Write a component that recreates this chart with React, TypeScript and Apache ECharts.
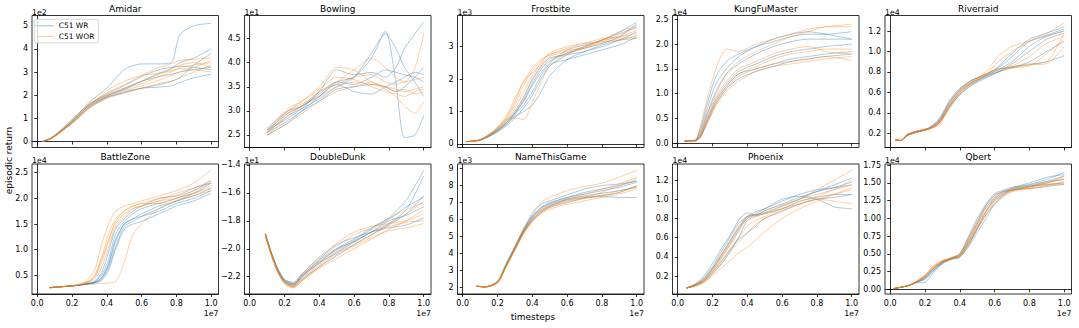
import React, { useEffect, useRef } from "react";
import * as echarts from "echarts";

// x positions are in units of 1e7 timesteps; y values in the units of each panel's offset (1eN)
const timestepTicks = [0, 0.2, 0.4, 0.6, 0.8, 1.0];

// ---------- Amidar (x1e2)
const amidarX = [0.03, 0.08, 0.15, 0.22, 0.3, 0.4, 0.5, 0.6, 0.7, 0.77, 0.82, 0.9, 1.0];
const amidarWR = [
  [0, 0.15, 0.55, 1.05, 1.7, 2.3, 3.1, 3.35, 3.35, 3.4, 4.6, 5.0, 5.1],
  [0, 0.12, 0.5, 0.95, 1.5, 1.95, 2.25, 2.6, 2.95, 3.15, 3.4, 3.6, 4.0],
  [0, 0.14, 0.52, 1.0, 1.55, 1.9, 2.1, 2.3, 2.45, 2.6, 2.75, 3.3, 3.8],
  [0, 0.15, 0.6, 1.1, 1.6, 2.0, 2.3, 2.6, 2.8, 2.9, 3.0, 3.1, 3.2],
  [0, 0.13, 0.5, 0.9, 1.45, 1.9, 2.15, 2.3, 2.35, 2.4, 2.55, 2.75, 2.9],
  [0, 0.15, 0.55, 1.0, 1.6, 2.05, 2.4, 2.8, 3.1, 3.2, 3.25, 3.2, 3.1],
];
const amidarWOR = [
  [0, 0.14, 0.55, 1.0, 1.6, 2.1, 2.45, 2.85, 3.2, 3.35, 3.5, 3.55, 3.6],
  [0, 0.13, 0.5, 0.95, 1.5, 1.95, 2.2, 2.4, 2.65, 2.85, 3.0, 3.2, 3.5],
  [0, 0.15, 0.55, 1.05, 1.65, 2.0, 2.25, 2.5, 2.8, 3.0, 3.2, 3.3, 3.4],
  [0, 0.12, 0.48, 0.9, 1.45, 1.85, 2.1, 2.3, 2.5, 2.6, 2.75, 3.0, 3.3],
  [0, 0.14, 0.52, 1.0, 1.55, 1.95, 2.3, 2.6, 2.9, 3.1, 3.3, 3.4, 3.2],
  [0, 0.13, 0.5, 0.95, 1.5, 2.2, 2.6, 2.85, 2.95, 3.05, 3.15, 3.1, 3.0],
];
const amidarTicks = [0, 1, 2, 3, 4, 5];

// ---------- Bowling (x1e1)
const bowlingX = [0.1, 0.15, 0.22, 0.3, 0.4, 0.5, 0.6, 0.7, 0.78, 0.84, 0.89, 0.95, 1.0];
const bowlingWR = [
  [2.55, 2.65, 2.8, 3.0, 3.3, 3.6, 3.7, 4.1, 4.65, 3.6, 2.45, 2.5, 2.9],
  [2.6, 2.7, 2.85, 3.05, 3.4, 3.85, 3.75, 3.8, 3.7, 3.9, 4.3, 4.6, 4.85],
  [2.5, 2.6, 2.75, 3.0, 3.2, 3.45, 3.5, 3.55, 3.5, 3.4, 3.5, 3.7, 3.9],
  [2.65, 2.8, 3.0, 3.1, 3.35, 3.6, 3.55, 3.7, 3.85, 3.8, 3.75, 3.7, 3.6],
  [2.55, 2.7, 2.9, 3.05, 3.25, 3.5, 3.7, 4.2, 4.6, 4.3, 3.9, 3.6, 3.3],
  [2.6, 2.75, 2.95, 3.1, 3.3, 3.55, 3.4, 3.35, 3.5, 3.6, 3.7, 3.8, 3.75],
];
const bowlingWOR = [
  [2.5, 2.65, 2.9, 3.1, 3.4, 3.6, 3.85, 4.1, 3.9, 3.7, 3.6, 3.9, 4.6],
  [2.55, 2.75, 3.0, 3.15, 3.3, 3.5, 3.6, 3.55, 3.5, 3.45, 3.4, 3.45, 3.5],
  [2.6, 2.8, 3.05, 3.2, 3.45, 3.7, 3.65, 3.5, 3.4, 3.35, 3.3, 3.4, 3.45],
  [2.5, 2.6, 2.75, 2.95, 3.2, 3.4, 3.5, 3.6, 3.45, 3.3, 3.1, 2.95, 3.2],
  [2.55, 2.7, 2.95, 3.1, 3.4, 3.55, 3.7, 3.75, 3.6, 3.55, 3.6, 3.65, 3.7],
  [2.6, 2.75, 3.0, 3.2, 3.5, 3.9, 3.85, 3.6, 3.5, 3.4, 3.45, 3.35, 3.4],
];
const bowlingTicks = [2.5, 3.0, 3.5, 4.0, 4.5];

// ---------- Frostbite (x1e3)
const frostbiteX = [0.02, 0.1, 0.18, 0.25, 0.3, 0.35, 0.4, 0.45, 0.5, 0.6, 0.7, 0.8, 0.9, 1.0];
const frostbiteWR = [
  [0.07, 0.12, 0.35, 0.65, 0.95, 1.35, 1.85, 2.3, 2.55, 2.8, 2.95, 3.1, 3.3, 3.7],
  [0.07, 0.12, 0.3, 0.55, 0.8, 1.1, 1.5, 2.0, 2.4, 2.75, 3.0, 3.2, 3.4, 3.6],
  [0.07, 0.11, 0.32, 0.6, 0.85, 1.0, 1.2, 1.6, 2.1, 2.6, 2.85, 3.0, 3.2, 3.45],
  [0.07, 0.13, 0.38, 0.7, 1.0, 1.45, 2.0, 2.4, 2.65, 2.75, 2.85, 3.05, 3.2, 3.25],
  [0.07, 0.12, 0.33, 0.6, 0.9, 1.2, 1.6, 2.1, 2.45, 2.6, 2.75, 2.9, 3.05, 3.3],
  [0.07, 0.12, 0.36, 0.65, 0.95, 1.3, 1.8, 2.2, 2.5, 2.9, 3.05, 3.2, 3.45, 3.75],
];
const frostbiteWOR = [
  [0.07, 0.13, 0.4, 0.8, 1.3, 1.95, 2.2, 2.45, 2.7, 2.85, 3.0, 3.15, 3.35, 3.6],
  [0.07, 0.12, 0.38, 0.75, 0.8, 0.75, 1.3, 1.9, 2.4, 2.8, 3.0, 3.2, 3.3, 3.5],
  [0.07, 0.14, 0.42, 0.85, 1.4, 1.9, 2.35, 2.6, 2.75, 2.95, 3.1, 3.25, 3.3, 3.4],
  [0.07, 0.12, 0.37, 0.7, 1.1, 1.6, 2.1, 2.5, 2.8, 3.0, 3.1, 3.15, 3.2, 3.35],
  [0.07, 0.13, 0.4, 0.75, 1.2, 1.8, 2.25, 2.55, 2.75, 2.9, 2.95, 3.1, 3.25, 3.3],
  [0.07, 0.12, 0.35, 0.65, 0.95, 1.4, 1.95, 2.35, 2.6, 2.8, 2.95, 3.2, 3.45, 3.65],
];
const frostbiteTicks = [0, 1, 2, 3];

// ---------- KungFuMaster (x1e4)
const kungfuX = [0.04, 0.1, 0.13, 0.17, 0.22, 0.28, 0.35, 0.45, 0.55, 0.65, 0.75, 0.85, 1.0];
const kungfuWR = [
  [0.05, 0.06, 0.3, 0.8, 1.35, 1.65, 1.8, 1.95, 2.05, 2.15, 2.2, 2.2, 2.25],
  [0.05, 0.05, 0.2, 0.6, 1.05, 1.4, 1.6, 1.8, 1.95, 2.05, 2.1, 2.1, 2.1],
  [0.05, 0.05, 0.15, 0.5, 0.9, 1.2, 1.45, 1.6, 1.75, 1.85, 1.9, 1.95, 2.0],
  [0.05, 0.05, 0.12, 0.42, 0.8, 1.1, 1.3, 1.45, 1.55, 1.65, 1.7, 1.75, 1.8],
  [0.05, 0.05, 0.13, 0.45, 0.85, 1.15, 1.4, 1.5, 1.6, 1.7, 1.75, 1.8, 1.85],
  [0.05, 0.06, 0.25, 0.7, 1.2, 1.5, 1.75, 1.95, 2.1, 2.2, 2.25, 2.2, 2.1],
];
const kungfuWOR = [
  [0.05, 0.06, 0.35, 0.9, 1.5, 1.9, 1.85, 2.0, 2.1, 2.2, 2.3, 2.35, 2.4],
  [0.05, 0.05, 0.2, 0.6, 1.0, 1.4, 1.65, 1.85, 2.0, 2.15, 2.25, 2.35, 2.35],
  [0.05, 0.05, 0.15, 0.5, 0.85, 1.15, 1.4, 1.55, 1.7, 1.8, 1.85, 1.9, 1.9],
  [0.05, 0.05, 0.12, 0.4, 0.75, 1.05, 1.25, 1.45, 1.55, 1.6, 1.65, 1.7, 1.75],
  [0.05, 0.06, 0.15, 0.45, 0.8, 1.1, 1.35, 1.5, 1.6, 1.65, 1.7, 1.75, 1.67],
  [0.05, 0.05, 0.18, 0.55, 0.95, 1.25, 1.5, 1.65, 1.8, 1.9, 1.95, 1.85, 1.8],
];
const kungfuTicks = [0, 0.5, 1.0, 1.5, 2.0, 2.5];

// ---------- Riverraid (x1e4)
const riverraidX = [0.03, 0.06, 0.1, 0.15, 0.22, 0.28, 0.34, 0.4, 0.47, 0.55, 0.62, 0.7, 0.8, 0.9, 1.0];
const riverraidWR = [
  [0.135, 0.13, 0.19, 0.21, 0.245, 0.32, 0.5, 0.63, 0.72, 0.78, 0.84, 0.95, 1.1, 1.16, 1.22],
  [0.135, 0.13, 0.18, 0.21, 0.24, 0.3, 0.45, 0.58, 0.68, 0.75, 0.8, 0.85, 0.87, 0.9, 0.96],
  [0.135, 0.13, 0.19, 0.22, 0.25, 0.33, 0.5, 0.62, 0.7, 0.76, 0.82, 0.9, 1.05, 1.15, 1.2],
  [0.135, 0.13, 0.18, 0.21, 0.245, 0.31, 0.47, 0.6, 0.69, 0.76, 0.8, 0.84, 0.9, 1.0, 1.1],
  [0.135, 0.13, 0.19, 0.22, 0.25, 0.34, 0.52, 0.64, 0.72, 0.77, 0.85, 0.98, 1.12, 1.18, 1.24],
  [0.135, 0.13, 0.18, 0.21, 0.24, 0.3, 0.46, 0.58, 0.67, 0.74, 0.8, 0.88, 1.0, 1.12, 1.18],
];
const riverraidWOR = [
  [0.135, 0.13, 0.19, 0.22, 0.24, 0.29, 0.46, 0.6, 0.7, 0.77, 0.9, 1.0, 1.1, 1.18, 1.28],
  [0.135, 0.13, 0.18, 0.21, 0.24, 0.3, 0.48, 0.62, 0.71, 0.78, 0.83, 0.84, 0.86, 0.98, 1.12],
  [0.135, 0.13, 0.19, 0.22, 0.25, 0.31, 0.47, 0.61, 0.7, 0.77, 0.82, 0.85, 0.88, 0.9, 1.18],
  [0.135, 0.13, 0.18, 0.21, 0.24, 0.28, 0.44, 0.58, 0.68, 0.76, 0.82, 0.86, 0.95, 1.08, 1.15],
  [0.135, 0.13, 0.19, 0.22, 0.25, 0.32, 0.5, 0.63, 0.72, 0.78, 0.83, 0.84, 0.87, 0.88, 1.05],
  [0.135, 0.13, 0.18, 0.21, 0.245, 0.3, 0.47, 0.6, 0.7, 0.8, 0.95, 1.05, 1.1, 1.15, 1.2],
];
const riverraidTicks = [0.2, 0.4, 0.6, 0.8, 1.0, 1.2];

// ---------- BattleZone (x1e4)
const battleX = [0.07, 0.15, 0.22, 0.28, 0.33, 0.37, 0.41, 0.45, 0.5, 0.55, 0.6, 0.7, 0.8, 0.9, 1.0];
const battleWR = [
  [0.26, 0.28, 0.3, 0.33, 0.36, 0.45, 0.7, 1.15, 1.5, 1.6, 1.7, 1.85, 1.95, 2.1, 2.3],
  [0.26, 0.28, 0.3, 0.33, 0.35, 0.4, 0.6, 1.0, 1.4, 1.5, 1.55, 1.7, 1.85, 1.95, 2.1],
  [0.26, 0.28, 0.3, 0.33, 0.37, 0.5, 0.8, 1.3, 1.55, 1.7, 1.8, 1.9, 2.0, 2.15, 2.35],
  [0.26, 0.28, 0.3, 0.32, 0.35, 0.42, 0.65, 1.05, 1.45, 1.55, 1.65, 1.8, 1.95, 2.05, 2.2],
  [0.26, 0.28, 0.3, 0.33, 0.38, 0.55, 0.95, 1.4, 1.6, 1.75, 1.85, 2.0, 2.05, 2.2, 2.3],
  [0.26, 0.28, 0.3, 0.33, 0.36, 0.45, 0.72, 1.2, 1.5, 1.6, 1.65, 1.75, 1.9, 2.0, 2.15],
];
const battleWOR = [
  [0.26, 0.28, 0.3, 0.38, 0.6, 1.1, 1.5, 1.75, 1.85, 1.9, 1.95, 2.05, 2.15, 2.3, 2.55],
  [0.26, 0.28, 0.31, 0.36, 0.5, 0.85, 1.3, 1.6, 1.75, 1.85, 1.9, 2.0, 2.05, 2.15, 2.3],
  [0.25, 0.28, 0.3, 0.34, 0.42, 0.65, 1.05, 1.45, 1.65, 1.8, 1.85, 1.95, 2.0, 2.1, 2.2],
  [0.26, 0.28, 0.3, 0.32, 0.33, 0.34, 0.35, 0.37, 0.75, 1.3, 1.5, 1.8, 1.95, 2.05, 2.15],
  [0.26, 0.28, 0.31, 0.35, 0.48, 0.8, 1.2, 1.5, 1.7, 1.8, 1.85, 1.95, 2.1, 2.2, 2.35],
  [0.25, 0.28, 0.3, 0.35, 0.45, 0.75, 1.15, 1.55, 1.75, 1.85, 1.9, 1.9, 2.0, 2.1, 2.25],
];
const battleTicks = [0.5, 1.0, 1.5, 2.0, 2.5];

// ---------- DoubleDunk (x1e1)
const dunkX = [0.09, 0.12, 0.16, 0.2, 0.25, 0.3, 0.4, 0.5, 0.6, 0.7, 0.8, 0.9, 1.0];
const dunkWR = [
  [-1.9, -2.02, -2.15, -2.23, -2.26, -2.2, -2.1, -2.0, -1.93, -1.85, -1.78, -1.65, -1.44],
  [-1.89, -2.01, -2.14, -2.22, -2.25, -2.19, -2.08, -2.0, -1.95, -1.88, -1.82, -1.72, -1.48],
  [-1.9, -2.02, -2.15, -2.23, -2.27, -2.22, -2.13, -2.05, -1.97, -1.9, -1.83, -1.75, -1.62],
  [-1.91, -2.03, -2.16, -2.24, -2.26, -2.2, -2.1, -2.03, -1.95, -1.88, -1.8, -1.76, -1.7],
  [-1.9, -2.02, -2.14, -2.22, -2.24, -2.18, -2.06, -1.97, -1.92, -1.88, -1.85, -1.83, -1.78],
  [-1.89, -2.01, -2.15, -2.23, -2.25, -2.19, -2.09, -2.01, -1.94, -1.86, -1.79, -1.7, -1.63],
];
const dunkWOR = [
  [-1.9, -2.02, -2.16, -2.24, -2.27, -2.22, -2.12, -2.03, -1.97, -1.9, -1.82, -1.75, -1.66],
  [-1.9, -2.03, -2.16, -2.25, -2.28, -2.23, -2.14, -2.07, -2.0, -1.93, -1.86, -1.8, -1.72],
  [-1.91, -2.03, -2.17, -2.25, -2.27, -2.2, -2.08, -1.96, -1.88, -1.84, -1.82, -1.8, -1.75],
  [-1.9, -2.02, -2.15, -2.24, -2.26, -2.21, -2.11, -2.02, -1.95, -1.88, -1.84, -1.81, -1.8],
  [-1.9, -2.03, -2.16, -2.24, -2.28, -2.23, -2.13, -2.04, -1.98, -1.92, -1.87, -1.85, -1.82],
  [-1.89, -2.02, -2.15, -2.23, -2.25, -2.18, -2.07, -1.98, -1.9, -1.85, -1.78, -1.72, -1.67],
];
const dunkTicks = [-2.2, -2.0, -1.8, -1.6, -1.4];

// ---------- NameThisGame (x1e3)
const nameX = [0.08, 0.13, 0.2, 0.25, 0.3, 0.35, 0.4, 0.45, 0.5, 0.6, 0.7, 0.8, 0.9, 1.0];
const nameWR = [
  [2.05, 2.02, 2.3, 3.3, 4.3, 5.3, 6.1, 6.7, 7.0, 7.3, 7.6, 7.8, 8.0, 8.3],
  [2.05, 2.0, 2.35, 3.4, 4.4, 5.4, 6.2, 6.7, 6.95, 7.3, 7.5, 7.7, 7.9, 8.2],
  [2.05, 2.01, 2.3, 3.3, 4.3, 5.3, 6.0, 6.5, 6.8, 7.15, 7.3, 7.4, 7.6, 8.0],
  [2.05, 2.02, 2.28, 3.25, 4.2, 5.2, 5.9, 6.4, 6.7, 7.0, 7.25, 7.35, 7.3, 7.3],
  [2.05, 2.01, 2.32, 3.35, 4.35, 5.35, 6.15, 6.6, 6.9, 7.2, 7.4, 7.55, 7.7, 7.9],
  [2.05, 2.02, 2.3, 3.3, 4.35, 5.4, 6.3, 6.9, 7.1, 7.45, 7.8, 8.0, 8.1, 8.25],
];
const nameWOR = [
  [2.05, 2.02, 2.3, 3.3, 4.4, 5.5, 6.4, 7.0, 7.3, 7.7, 7.95, 8.15, 8.5, 8.9],
  [2.05, 2.0, 2.25, 3.2, 4.2, 5.2, 5.9, 6.4, 6.75, 7.2, 7.5, 7.8, 8.1, 8.5],
  [2.05, 2.01, 2.28, 3.25, 4.25, 5.25, 6.0, 6.5, 6.8, 7.1, 7.3, 7.6, 8.0, 8.4],
  [2.05, 2.02, 2.3, 3.3, 4.3, 5.3, 6.05, 6.55, 6.85, 7.2, 7.35, 7.4, 7.6, 8.0],
  [2.05, 2.0, 2.25, 3.2, 4.2, 5.15, 5.85, 6.35, 6.6, 6.9, 7.1, 7.3, 7.5, 7.8],
  [2.05, 2.01, 2.27, 3.25, 4.25, 5.2, 5.95, 6.45, 6.75, 7.05, 7.25, 7.45, 7.7, 7.9],
];
const nameTicks = [2, 3, 4, 5, 6, 7, 8, 9];

// ---------- Phoenix (x1e4)
const phoenixX = [0.05, 0.1, 0.15, 0.2, 0.25, 0.3, 0.35, 0.4, 0.45, 0.5, 0.6, 0.7, 0.8, 0.9, 1.0];
const phoenixWR = [
  [0.075, 0.12, 0.2, 0.33, 0.48, 0.62, 0.78, 0.86, 0.83, 0.88, 0.95, 1.02, 1.08, 1.15, 1.22],
  [0.075, 0.1, 0.16, 0.27, 0.4, 0.53, 0.68, 0.82, 0.84, 0.86, 0.93, 1.0, 1.08, 1.12, 1.18],
  [0.075, 0.11, 0.18, 0.3, 0.45, 0.6, 0.75, 0.82, 0.87, 0.9, 0.98, 1.05, 1.1, 1.12, 1.15],
  [0.075, 0.1, 0.15, 0.24, 0.35, 0.47, 0.58, 0.65, 0.72, 0.8, 0.88, 0.95, 1.0, 1.02, 1.05],
  [0.075, 0.11, 0.17, 0.28, 0.42, 0.56, 0.7, 0.8, 0.85, 0.9, 1.0, 1.03, 1.0, 0.92, 0.9],
  [0.075, 0.1, 0.14, 0.22, 0.32, 0.45, 0.6, 0.78, 0.82, 0.85, 0.9, 0.98, 1.02, 1.05, 1.05],
];
const phoenixWOR = [
  [0.075, 0.1, 0.15, 0.25, 0.38, 0.52, 0.66, 0.8, 0.83, 0.85, 0.92, 1.0, 1.1, 1.2, 1.3],
  [0.075, 0.09, 0.13, 0.2, 0.28, 0.36, 0.44, 0.5, 0.58, 0.66, 0.8, 0.9, 0.98, 1.05, 1.12],
  [0.075, 0.1, 0.16, 0.26, 0.4, 0.55, 0.7, 0.82, 0.83, 0.85, 0.9, 0.97, 1.03, 1.1, 1.2],
  [0.075, 0.1, 0.14, 0.22, 0.33, 0.45, 0.55, 0.65, 0.74, 0.8, 0.87, 0.95, 1.0, 0.98, 0.95],
  [0.075, 0.11, 0.17, 0.28, 0.42, 0.57, 0.72, 0.82, 0.84, 0.88, 0.94, 1.0, 1.05, 1.1, 1.15],
  [0.075, 0.1, 0.15, 0.24, 0.36, 0.48, 0.6, 0.72, 0.78, 0.82, 0.9, 0.95, 1.0, 1.05, 1.1],
];
const phoenixTicks = [0.2, 0.4, 0.6, 0.8, 1.0, 1.2];

// ---------- Qbert (x1e4)
const qbertX = [0.02, 0.1, 0.15, 0.2, 0.25, 0.3, 0.35, 0.4, 0.45, 0.5, 0.55, 0.6, 0.65, 0.7, 0.8, 0.9, 1.0];
const qbertWR = [
  [0.01, 0.05, 0.1, 0.15, 0.28, 0.38, 0.43, 0.47, 0.68, 0.92, 1.15, 1.3, 1.38, 1.42, 1.48, 1.55, 1.65],
  [0.01, 0.05, 0.09, 0.1, 0.24, 0.36, 0.42, 0.45, 0.6, 0.8, 1.0, 1.2, 1.32, 1.4, 1.45, 1.52, 1.6],
  [0.01, 0.05, 0.1, 0.17, 0.3, 0.39, 0.44, 0.5, 0.72, 0.95, 1.18, 1.33, 1.38, 1.4, 1.45, 1.48, 1.5],
  [0.01, 0.05, 0.1, 0.16, 0.27, 0.37, 0.43, 0.48, 0.65, 0.85, 1.05, 1.22, 1.33, 1.43, 1.5, 1.58, 1.62],
  [0.01, 0.05, 0.1, 0.14, 0.26, 0.37, 0.43, 0.46, 0.62, 0.85, 1.1, 1.28, 1.36, 1.4, 1.42, 1.45, 1.48],
  [0.01, 0.05, 0.11, 0.18, 0.3, 0.39, 0.44, 0.5, 0.75, 1.0, 1.2, 1.35, 1.4, 1.44, 1.47, 1.52, 1.55],
];
const qbertWOR = [
  [0.01, 0.05, 0.11, 0.2, 0.33, 0.4, 0.44, 0.48, 0.7, 0.93, 1.15, 1.28, 1.36, 1.42, 1.45, 1.5, 1.6],
  [0.01, 0.05, 0.1, 0.18, 0.3, 0.38, 0.43, 0.46, 0.63, 0.85, 1.05, 1.2, 1.3, 1.38, 1.45, 1.48, 1.5],
  [0.01, 0.05, 0.11, 0.19, 0.32, 0.4, 0.44, 0.49, 0.68, 0.9, 1.1, 1.25, 1.35, 1.4, 1.43, 1.47, 1.48],
  [0.01, 0.05, 0.1, 0.17, 0.3, 0.38, 0.43, 0.47, 0.64, 0.87, 1.08, 1.25, 1.33, 1.38, 1.42, 1.46, 1.52],
  [0.01, 0.05, 0.11, 0.2, 0.34, 0.41, 0.45, 0.5, 0.72, 0.97, 1.18, 1.32, 1.38, 1.42, 1.46, 1.5, 1.55],
  [0.01, 0.05, 0.1, 0.18, 0.31, 0.39, 0.43, 0.47, 0.66, 0.88, 1.1, 1.26, 1.34, 1.4, 1.44, 1.5, 1.57],
];
const qbertTicks = [0, 0.25, 0.5, 0.75, 1.0, 1.25, 1.5, 1.75];

type Panel = {
  title: string; exp: string; x: number[]; wr: number[][]; wor: number[][];
  ticks: number[]; dec: number; ymin: number; ymax: number;
};

const panels: Panel[] = [
  { title: "Amidar", exp: "1e2", x: amidarX, wr: amidarWR, wor: amidarWOR, ticks: amidarTicks, dec: 0, ymin: -0.26, ymax: 5.44 },
  { title: "Bowling", exp: "1e1", x: bowlingX, wr: bowlingWR, wor: bowlingWOR, ticks: bowlingTicks, dec: 1, ymin: 2.24, ymax: 4.98 },
  { title: "Frostbite", exp: "1e3", x: frostbiteX, wr: frostbiteWR, wor: frostbiteWOR, ticks: frostbiteTicks, dec: 0, ymin: -0.11, ymax: 3.96 },
  { title: "KungFuMaster", exp: "1e4", x: kungfuX, wr: kungfuWR, wor: kungfuWOR, ticks: kungfuTicks, dec: 1, ymin: -0.085, ymax: 2.577 },
  { title: "Riverraid", exp: "1e4", x: riverraidX, wr: riverraidWR, wor: riverraidWOR, ticks: riverraidTicks, dec: 1, ymin: 0.061, ymax: 1.352 },
  { title: "BattleZone", exp: "1e4", x: battleX, wr: battleWR, wor: battleWOR, ticks: battleTicks, dec: 1, ymin: 0.135, ymax: 2.67 },
  { title: "DoubleDunk", exp: "1e1", x: dunkX, wr: dunkWR, wor: dunkWOR, ticks: dunkTicks, dec: 1, ymin: -2.324, ymax: -1.393 },
  { title: "NameThisGame", exp: "1e3", x: nameX, wr: nameWR, wor: nameWOR, ticks: nameTicks, dec: 0, ymin: 1.59, ymax: 9.28 },
  { title: "Phoenix", exp: "1e4", x: phoenixX, wr: phoenixWR, wor: phoenixWOR, ticks: phoenixTicks, dec: 1, ymin: 0.0125, ymax: 1.367 },
  { title: "Qbert", exp: "1e4", x: qbertX, wr: qbertWR, wor: qbertWOR, ticks: qbertTicks, dec: 2, ymin: -0.066, ymax: 1.768 },
];

const FONT = "DejaVu Sans";
const BLUE = "#1f77b4";
const ORANGE = "#ff7f0e";
const BLUE_LIGHT = "rgba(31,119,180,0.4)";
const ORANGE_LIGHT = "rgba(255,127,14,0.4)";
const colLeft = [32, 244.5, 457.5, 672.5, 885];
const plotW = 186.5;
const rowTop = [15.5, 164];
const rowH = [132, 130];
const XMIN = -0.03;
const XMAX = 1.042;

const fmt = (v: number, dec: number) => {
  const s = Number(v).toFixed(dec);
  return s.replace("-", "\u2212");
};

export default function App() {
  const ref = useRef<HTMLDivElement>(null);
  useEffect(() => {
    document.body.style.margin = "0";
    if (!ref.current) return;
    const chart = echarts.init(ref.current, undefined, { renderer: "svg" });

    const grids: any[] = [];
    const xAxes: any[] = [];
    const yAxes: any[] = [];
    const series: any[] = [];
    const graphics: any[] = [];

    panels.forEach((p, i) => {
      const row = Math.floor(i / 5);
      const col = i % 5;
      const left = colLeft[col];
      const top = rowTop[row];
      const h = rowH[row];
      grids.push({
        left, top, width: plotW, height: h,
        show: true, borderColor: "#000", borderWidth: 0.8, backgroundColor: "transparent",
        containLabel: false, outerBoundsMode: "none",
      });
      xAxes.push({
        type: "value", gridIndex: i, min: XMIN, max: XMAX,
        axisLine: { show: true, lineStyle: { color: "#000", width: 0.8 } },
        axisTick: { show: true, customValues: timestepTicks, length: 3, lineStyle: { color: "#000", width: 0.8 } },
        axisLabel: {
          show: row === 1, customValues: timestepTicks, margin: 5,
          formatter: (v: number) => fmt(v, 1), fontSize: 8, fontFamily: FONT, color: "#000",
        },
        splitLine: { show: false },
      });
      yAxes.push({
        type: "value", gridIndex: i, min: p.ymin, max: p.ymax,
        axisLine: { show: true, lineStyle: { color: "#000", width: 0.8 } },
        axisTick: { show: true, customValues: p.ticks, length: 3, lineStyle: { color: "#000", width: 0.8 } },
        axisLabel: {
          show: true, customValues: p.ticks, margin: 4,
          formatter: (v: number) => fmt(v, p.dec), fontSize: 8, fontFamily: FONT, color: "#000",
        },
        splitLine: { show: false },
      });
      const mk = (arr: number[], name: string, color: string) => ({
        type: "line", name, xAxisIndex: i, yAxisIndex: i,
        data: p.x.map((xv, j) => [xv, arr[j]]),
        symbol: "none", showSymbol: false, smooth: 0.25, silent: true,
        lineStyle: { color, width: 1, opacity: 0.38 },
        itemStyle: { color },
      });
      p.wr.forEach((arr) => series.push(mk(arr, "C51 WR", BLUE)));
      p.wor.forEach((arr) => series.push(mk(arr, "C51 WOR", ORANGE)));

      graphics.push({
        type: "text", x: left + plotW / 2, y: top - 7,
        style: { text: p.title, fontSize: 9, fontFamily: FONT, fill: "#000", align: "center", verticalAlign: "middle", textAlign: "center", textVerticalAlign: "middle" },
      });
      graphics.push({
        type: "text", x: left, y: top - 3.5,
        style: { text: p.exp, fontSize: 7.8, fontFamily: FONT, fill: "#000", align: "left", verticalAlign: "middle", textAlign: "left", textVerticalAlign: "middle" },
      });
      if (row === 1) {
        graphics.push({
          type: "text", x: left + plotW, y: 313,
          style: { text: "1e7", fontSize: 7.8, fontFamily: FONT, fill: "#000", align: "right", verticalAlign: "middle", textAlign: "right", textVerticalAlign: "middle" },
        });
      }
    });

    graphics.push({
      type: "text", x: 533, y: 316.5,
      style: { text: "timesteps", fontSize: 9, fontFamily: FONT, fill: "#000", align: "center", verticalAlign: "middle", textAlign: "center", textVerticalAlign: "middle" },
    });
    graphics.push({
      type: "text", x: 9, y: 160.5, rotation: Math.PI / 2,
      style: { text: "episodic return", fontSize: 9, fontFamily: FONT, fill: "#000", align: "center", verticalAlign: "middle", textAlign: "center", textVerticalAlign: "middle" },
    });

    chart.setOption({
      animation: false,
      backgroundColor: "#fff",
      grid: grids,
      xAxis: xAxes,
      yAxis: yAxes,
      series,
      legend: {
        data: [
          { name: "C51 WR", icon: "rect", itemStyle: { color: BLUE_LIGHT, borderWidth: 0 } },
          { name: "C51 WOR", icon: "rect", itemStyle: { color: ORANGE_LIGHT, borderWidth: 0 } },
        ],
        orient: "vertical", left: 34.3, top: 19.3,
        itemWidth: 16, itemHeight: 1.2, itemGap: 2.6,
        padding: [2.5, 4, 2.5, 3.4],
        selectedMode: false,
        textStyle: { fontSize: 7.5, fontFamily: FONT, color: "#000" },
        borderColor: "#cccccc", borderWidth: 0.8, borderRadius: 2,
        backgroundColor: "rgba(255,255,255,0.8)",
      },
      graphic: { elements: graphics },
    });
    return () => chart.dispose();
  }, []);
  return <div ref={ref} style={{ width: 1079, height: 328 }} />;
}
